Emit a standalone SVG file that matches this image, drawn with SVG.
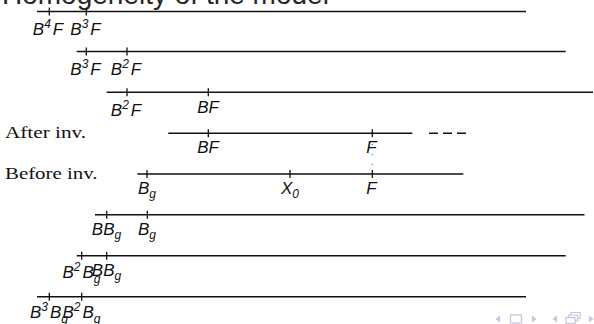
<svg xmlns="http://www.w3.org/2000/svg" width="594" height="324" viewBox="0 0 594 324">
<style>
.ln{stroke:#111;stroke-width:1.5;fill:none}
.tk{stroke:#111;stroke-width:1.3}
.lb{font-family:"Liberation Sans",Arial,sans-serif;font-style:italic;font-size:17px;fill:#111;text-anchor:middle}
.sp{font-size:12px}
.rm{font-family:"Liberation Serif","Times New Roman",serif;font-size:16px;fill:#111}
.nav{fill:#c4c4dc;stroke:none}
.navs{fill:none;stroke:#c4c4dc;stroke-width:1.2}
</style>
<text x="2" y="4" font-family="Liberation Sans,Arial,sans-serif" font-size="28" fill="#262626">Homogeneity of the model</text>
<g id="connectors">
<line class="ln" x1="37" y1="11.5" x2="526" y2="11.5"/>
<line class="ln" x1="76.7" y1="51.5" x2="565.7" y2="51.5"/>
<line class="ln" x1="106.7" y1="92.3" x2="593" y2="92.3"/>
<line class="ln" x1="168.3" y1="133.3" x2="412.3" y2="133.3"/>
<line class="ln" x1="429" y1="133.3" x2="470" y2="133.3" stroke-dasharray="9 5"/>
<line class="ln" x1="137.3" y1="174" x2="463.3" y2="174"/>
<line x1="372.3" y1="144" x2="372.3" y2="172" stroke="#444" stroke-width="1" stroke-dasharray="1 9"/>
<line class="ln" x1="95" y1="214.7" x2="584.5" y2="214.7"/>
<line class="ln" x1="76.7" y1="255.7" x2="565.7" y2="255.7"/>
<line class="ln" x1="37" y1="296.7" x2="526" y2="296.7"/>
</g>
<g id="ticks">
<line class="tk" x1="49.3" y1="7.5" x2="49.3" y2="15.5"/>
<line class="tk" x1="86.3" y1="7.5" x2="86.3" y2="15.5"/>
<line class="tk" x1="86.3" y1="47.5" x2="86.3" y2="55.5"/>
<line class="tk" x1="127" y1="47.5" x2="127" y2="55.5"/>
<line class="tk" x1="127" y1="88.3" x2="127" y2="96.3"/>
<line class="tk" x1="208.3" y1="88.3" x2="208.3" y2="96.3"/>
<line class="tk" x1="208.3" y1="129.3" x2="208.3" y2="137.3"/>
<line class="tk" x1="372.3" y1="129.3" x2="372.3" y2="137.3"/>
<line class="tk" x1="147" y1="170" x2="147" y2="178"/>
<line class="tk" x1="290" y1="170" x2="290" y2="178"/>
<line class="tk" x1="372.3" y1="170" x2="372.3" y2="178"/>
<line class="tk" x1="106.7" y1="210.7" x2="106.7" y2="218.7"/>
<line class="tk" x1="147.3" y1="210.7" x2="147.3" y2="218.7"/>
<line class="tk" x1="81.7" y1="251.7" x2="81.7" y2="259.7"/>
<line class="tk" x1="106.7" y1="251.7" x2="106.7" y2="259.7"/>
<line class="tk" x1="49.3" y1="292.7" x2="49.3" y2="300.7"/>
<line class="tk" x1="81.7" y1="292.7" x2="81.7" y2="300.7"/>
</g>
<g id="row1">
<text class="lb" x="48" y="35">B<tspan class="sp" dy="-7">4</tspan><tspan dx="2" dy="7">F</tspan></text>
<text class="lb" x="85.5" y="35">B<tspan class="sp" dy="-7">3</tspan><tspan dx="2" dy="7">F</tspan></text>
</g>
<g id="row2">
<text class="lb" x="85.5" y="75">B<tspan class="sp" dy="-7">3</tspan><tspan dx="2" dy="7">F</tspan></text>
<text class="lb" x="126" y="75">B<tspan class="sp" dy="-7">2</tspan><tspan dx="2" dy="7">F</tspan></text>
</g>
<g id="row3">
<text class="lb" x="126" y="115.5">B<tspan class="sp" dy="-7">2</tspan><tspan dx="2" dy="7">F</tspan></text>
<text class="lb" x="208" y="112.5">BF</text>
</g>
<g id="after">
<text class="rm" x="5" y="138" textLength="81" lengthAdjust="spacingAndGlyphs">After inv.</text>
<text class="lb" x="208" y="153.3">BF</text>
<text class="lb" x="371.5" y="153.3">F</text>
</g>
<g id="before">
<text class="rm" x="5" y="179" textLength="92.5" lengthAdjust="spacingAndGlyphs">Before inv.</text>
<text class="lb" x="147" y="193.5">B<tspan class="sp" dy="4.5">g</tspan></text>
<text class="lb" x="290" y="193.5">X<tspan class="sp" dy="4.5">0</tspan></text>
<text class="lb" x="371.5" y="193.5">F</text>
</g>
<g id="row6">
<text class="lb" x="106.5" y="234.5">BB<tspan class="sp" dy="4.5">g</tspan></text>
<text class="lb" x="147" y="234.5">B<tspan class="sp" dy="4.5">g</tspan></text>
</g>
<g id="row7">
<text class="lb" x="81.5" y="278">B<tspan class="sp" dy="-7">2</tspan><tspan dx="2" dy="7">B</tspan><tspan class="sp" dy="4.5">g</tspan></text>
<text class="lb" x="106.5" y="275.5">BB<tspan class="sp" dy="4.5">g</tspan></text>
</g>
<g id="row8">
<text class="lb" x="49" y="318">B<tspan class="sp" dy="-7">3</tspan><tspan dx="2" dy="7">B</tspan><tspan class="sp" dy="4.5">g</tspan></text>
<text class="lb" x="81.5" y="318">B<tspan class="sp" dy="-7">2</tspan><tspan dx="2" dy="7">B</tspan><tspan class="sp" dy="4.5">g</tspan></text>
</g>
<g id="nav">
<polygon class="nav" points="500,315.5 500,322.5 495.5,319"/>
<rect class="navs" x="510.5" y="315" width="11" height="8"/>
<polygon class="nav" points="532,315.5 532,322.5 536.5,319"/>
<polygon class="nav" points="557,315.5 557,322.5 552.5,319"/>
<rect class="navs" x="566" y="317.5" width="9" height="6"/>
<path class="navs" d="M568.5,317.5 V315 H577.5 V321 H575 M571,315 V312.5 H580 V318.5 H577.5"/>
<polygon class="nav" points="589,315.5 589,322.5 593.5,319"/>
</g>
</svg>
